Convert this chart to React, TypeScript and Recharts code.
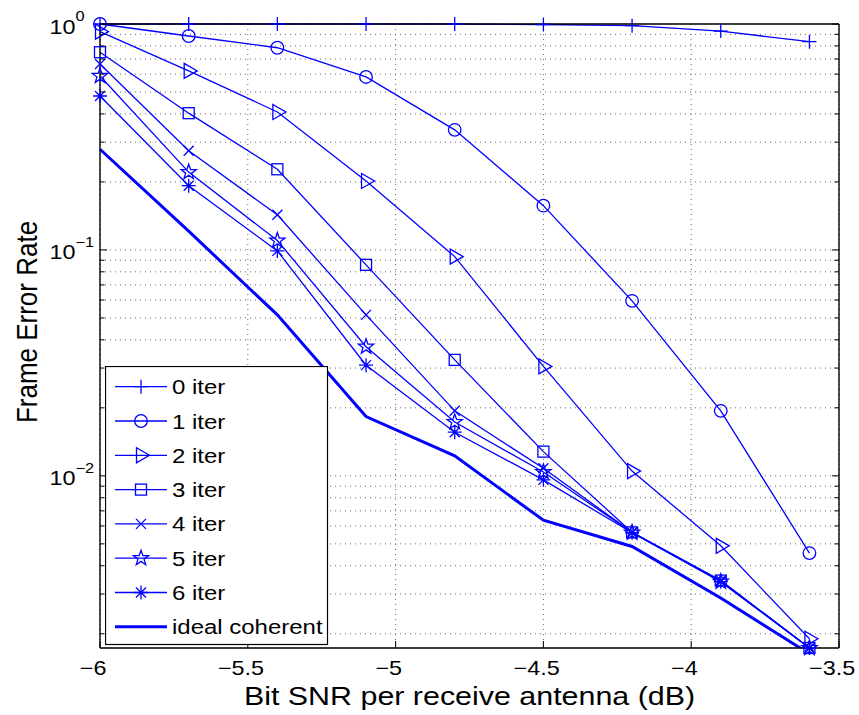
import React from 'react';
import { LineChart, Line, XAxis, YAxis, CartesianGrid, Legend, Label } from 'recharts';

// ---- data ----
const snr = [-6, -5.7, -5.4, -5.1, -4.8, -4.5, -4.2, -3.9, -3.6];
const iter0 = [1.0, 1.0, 1.0, 1.0, 1.0, 0.995, 0.983, 0.93, 0.835];
const iter1 = [1.0, 0.885, 0.785, 0.583, 0.34, 0.157, 0.0595, 0.0194, 0.00455];
const iter2 = [0.925, 0.62, 0.408, 0.202, 0.0934, 0.0305, 0.0105, 0.0049, 0.0019];
const iter3 = [0.75, 0.403, 0.2275, 0.0859, 0.0326, 0.0128, 0.00562, 0.00344, 0.00173];
const iter4 = [0.665, 0.275, 0.143, 0.0516, 0.0194, 0.0108, 0.00562, 0.00344, 0.00173];
const iter5 = [0.589, 0.221, 0.11, 0.0373, 0.0173, 0.0104, 0.00561, 0.0034, 0.00173];
const iter6 = [0.48, 0.1925, 0.099, 0.0309, 0.0156, 0.0096, 0.0056, 0.0034, 0.00173];
const ideal = [0.279, 0.121, 0.0516, 0.0183, 0.01226, 0.00636, 0.00487, 0.00288, 0.00163];

const seriesNames = ['0 iter', '1 iter', '2 iter', '3 iter', '4 iter', '5 iter', '6 iter', 'ideal coherent'];
const seriesKeys = ['s0', 's1', 's2', 's3', 's4', 's5', 's6', 'ideal'];
const seriesMarkers = ['plus', 'circle', 'tri', 'square', 'x', 'star', 'asterisk', 'none'];

const xTicks = [-6, -5.5, -5, -4.5, -4, -3.5];
const yTicks = [
  0.002, 0.003, 0.004, 0.005, 0.006, 0.007, 0.008, 0.009,
  0.01, 0.02, 0.03, 0.04, 0.05, 0.06, 0.07, 0.08, 0.09,
  0.1, 0.2, 0.3, 0.4, 0.5, 0.6, 0.7, 0.8, 0.9, 1,
];
const xDomain = [-6, -3.5];
const yDomain = [0.00173, 1];

const xLabel = 'Bit SNR per receive antenna (dB)';
const yLabel = 'Frame Error Rate';

const allSeries = [iter0, iter1, iter2, iter3, iter4, iter5, iter6, ideal];
const data = snr.map((x, i) => {
  const row: any = { x };
  seriesKeys.forEach((k, j) => {
    row[k] = allSeries[j][i];
  });
  return row;
});

// ---- styles ----
const BLUE = '#0000ff';
const FONT = '"Liberation Sans", Arial, Helvetica, sans-serif';
const SX = 1.17;

const SText = ({ x, y, size, anchor = 'start', children }: any) => (
  <text
    transform={`translate(${x} ${y}) scale(${SX} 1)`}
    fontSize={size}
    fontFamily={FONT}
    textAnchor={anchor}
    fill="#000"
  >
    {children}
  </text>
);

const Marker = ({ type, cx, cy }: any) => {
  const c = { fill: 'none', stroke: BLUE, strokeWidth: 1.3 };
  switch (type) {
    case 'plus':
      return <path d={`M${cx - 7},${cy}H${cx + 7}M${cx},${cy - 7}V${cy + 7}`} {...c} />;
    case 'circle':
      return <circle cx={cx} cy={cy} r={6.3} {...c} />;
    case 'tri':
      return <path d={`M${cx - 4.5},${cy - 7.5}L${cx + 8.5},${cy}L${cx - 4.5},${cy + 7.5}Z`} {...c} />;
    case 'square':
      return <rect x={cx - 5.5} y={cy - 5.5} width={11} height={11} {...c} />;
    case 'x':
      return <path d={`M${cx - 5},${cy - 5}L${cx + 5},${cy + 5}M${cx - 5},${cy + 5}L${cx + 5},${cy - 5}`} {...c} />;
    case 'star': {
      const pts: string[] = [];
      for (let i = 0; i < 10; i++) {
        const r = i % 2 === 0 ? 8 : 3.2;
        const a = -Math.PI / 2 + (i * Math.PI) / 5;
        pts.push(`${cx + r * Math.cos(a)},${cy + r * Math.sin(a)}`);
      }
      return <polygon points={pts.join(' ')} {...c} />;
    }
    case 'asterisk':
      return (
        <path
          d={`M${cx - 7},${cy}H${cx + 7}M${cx},${cy - 7}V${cy + 7}M${cx - 5},${cy - 5}L${cx + 5},${cy + 5}M${cx - 5},${cy + 5}L${cx + 5},${cy - 5}`}
          {...c}
        />
      );
    default:
      return null;
  }
};

const isMajor = (v: number) => {
  const l = Math.log10(v);
  return Math.abs(l - Math.round(l)) < 1e-6;
};

const LeftTick = ({ x, y, payload }: any) => {
  const v = payload.value;
  const major = isMajor(v);
  const e = Math.round(Math.log10(v));
  return (
    <g>
      <line x1={x} x2={x + (major ? 7 : 4.5)} y1={y} y2={y} stroke="#000" strokeWidth={1} />
      {major && (
        <g>
          <SText x={49.5} y={y + 9.5} size={20}>10</SText>
          <SText x={75.5} y={y - 3} size={14}>{e === 0 ? '0' : `\u2212${Math.abs(e)}`}</SText>
        </g>
      )}
    </g>
  );
};

const RightTick = ({ x, y, payload }: any) => {
  const major = isMajor(payload.value);
  return <line x1={x} x2={x - (major ? 7 : 4.5)} y1={y} y2={y} stroke="#000" strokeWidth={1} />;
};

const fmtX = (v: number) => (v < 0 ? `\u2212${Math.abs(v)}` : `${v}`);

const BottomTick = ({ x, y, payload }: any) => {
  const v = payload.value;
  return (
    <g>
      <line x1={x} x2={x} y1={y} y2={y - 7} stroke="#000" strokeWidth={1} />
      <SText x={x - (v < 0 ? 6.8 : 0)} y={y + 27} size={20} anchor="middle">
        {fmtX(v)}
      </SText>
    </g>
  );
};

const TopTick = ({ x, y }: any) => (
  <line x1={x} x2={x} y1={y} y2={y + 7} stroke="#000" strokeWidth={1} />
);

const LegendBox = () => {
  const rowY = (i: number) => 20.7 + 34.3 * i;
  return (
    <svg width={224} height={280} style={{ display: 'block' }}>
      <rect x={0.5} y={0.5} width={222} height={278} fill="#fff" stroke="#000" strokeWidth={1.2} />
      {seriesNames.map((name, i) => (
        <g key={name}>
          <line
            x1={10}
            x2={62}
            y1={rowY(i)}
            y2={rowY(i)}
            stroke={BLUE}
            strokeWidth={seriesMarkers[i] === 'none' ? 3 : 1.3}
          />
          <Marker type={seriesMarkers[i]} cx={36} cy={rowY(i)} />
          <SText x={67} y={rowY(i) + 7.5} size={20.5}>{name}</SText>
        </g>
      ))}
    </svg>
  );
};

export default function App() {
  return (
    <div style={{ position: 'absolute', left: 0, top: 0, background: '#fff' }}>
      <LineChart
        width={859}
        height={715}
        data={data}
        margin={{ top: 0, right: 0, bottom: 0, left: 0 }}
      >
        <CartesianGrid stroke="#6a6a6a" strokeDasharray="1 4" strokeWidth={1} />
        <XAxis
          xAxisId={0}
          dataKey="x"
          type="number"
          domain={xDomain}
          ticks={xTicks}
          interval={0}
          height={67}
          tickSize={0}
          tickMargin={0}
          tickLine={false}
          axisLine={{ stroke: '#000', strokeWidth: 1.4 }}
          tick={<BottomTick />}
        >
          <Label
            content={({ viewBox }: any) => (
              <SText x={viewBox.x + viewBox.width / 2} y={viewBox.y + 57} size={26} anchor="middle">
                {xLabel}
              </SText>
            )}
          />
        </XAxis>
        <XAxis
          xAxisId="top"
          orientation="top"
          type="number"
          domain={xDomain}
          ticks={xTicks}
          interval={0}
          height={24}
          tickSize={0}
          tickMargin={0}
          tickLine={false}
          axisLine={{ stroke: '#000', strokeWidth: 1.4 }}
          tick={<TopTick />}
        />
        <YAxis
          yAxisId={0}
          type="number"
          scale="log"
          domain={yDomain}
          ticks={yTicks}
          interval={0}
          width={100}
          tickSize={0}
          tickMargin={0}
          tickLine={false}
          axisLine={{ stroke: '#000', strokeWidth: 1.4 }}
          tick={<LeftTick />}
        >
          <Label
            content={({ viewBox }: any) => (
              <text
                transform={`translate(36.5 ${viewBox.y + viewBox.height / 2 - 14}) scale(${SX} 1) rotate(-90)`}
                fontSize={26}
                fontFamily={FONT}
                textAnchor="middle"
                fill="#000"
              >
                {yLabel}
              </text>
            )}
          />
        </YAxis>
        <YAxis
          yAxisId="r"
          orientation="right"
          type="number"
          scale="log"
          domain={yDomain}
          allowDataOverflow
          ticks={yTicks}
          interval={0}
          width={20}
          tickSize={0}
          tickMargin={0}
          tickLine={false}
          axisLine={{ stroke: '#000', strokeWidth: 1.4 }}
          tick={<RightTick />}
        />
        <Line
          yAxisId="r"
          dataKey="ideal"
          type="linear"
          stroke={BLUE}
          strokeWidth={3}
          dot={false}
          activeDot={false}
          isAnimationActive={false}
        />
        {seriesKeys.slice(0, 7).map((k, j) => (
          <Line
            key={k}
            yAxisId={0}
            dataKey={k}
            type="linear"
            stroke={BLUE}
            strokeWidth={1.3}
            activeDot={false}
            isAnimationActive={false}
            dot={(p: any) => (
              <Marker key={`${k}-${p.index}`} type={seriesMarkers[j]} cx={p.cx} cy={p.cy} />
            )}
          />
        ))}
        <Legend
          layout="vertical"
          align="center"
          verticalAlign="middle"
          wrapperStyle={{ position: 'absolute', left: 105, top: 366, width: 224, height: 280 }}
          content={() => <LegendBox />}
        />
      </LineChart>
    </div>
  );
}
